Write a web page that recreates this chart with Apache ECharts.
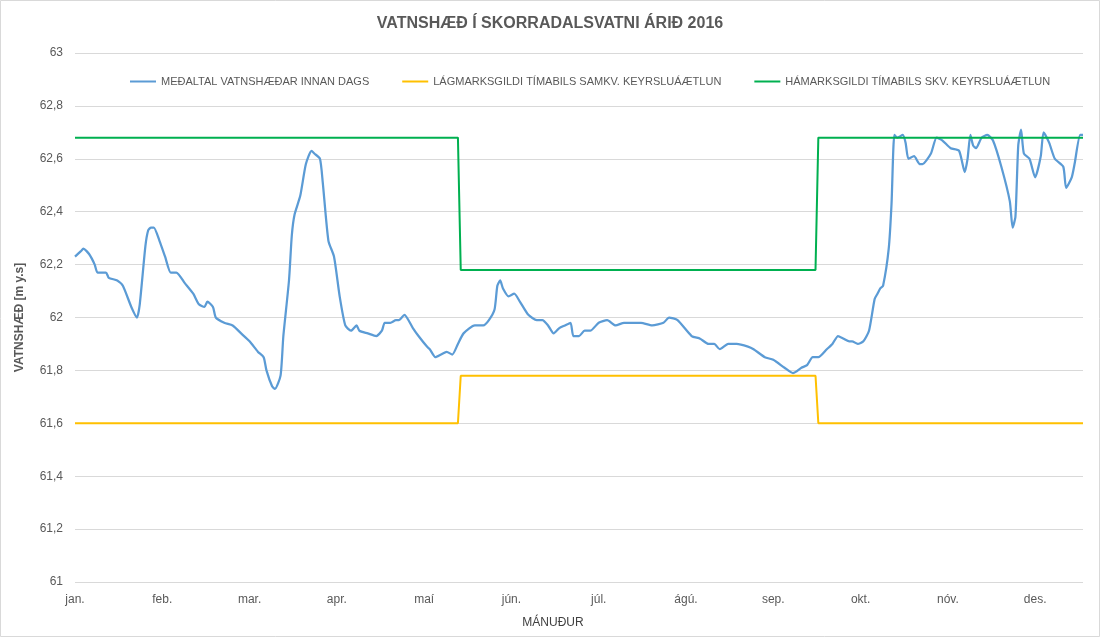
<!DOCTYPE html>
<html>
<head>
<meta charset="utf-8">
<title>Vatnshæð í Skorradalsvatni 2016</title>
<script src="https://cdn.jsdelivr.net/npm/echarts@6/dist/echarts.min.js"></script>
<style>
    body { margin: 0; background: #fff; }
    #main { width: 1100px; height: 637px; }
</style>
</head>
<body>
<div id="main"></div>
<script>
// month labels, one every 31 days on the axis
var months = ["jan.", "feb.", "mar.", "apr.", "maí", "jún.", "júl.", "ágú.", "sep.", "okt.", "nóv.", "des."];

// daily mean water level (day index, m y.s)
var levelDay = [0, 2, 3, 5, 7, 8, 11, 12, 15, 17, 20, 22, 23, 25, 26, 27, 28, 30, 32, 34,
    36, 39, 42, 44, 46, 47, 49, 50, 53, 56, 59, 62, 65, 67, 68, 70, 71, 73, 74, 76,
    77, 78, 80, 82, 84, 85, 87, 88, 90, 92, 94, 96, 98, 100, 101, 104, 107, 109, 110, 112,
    114, 115, 117, 120, 122, 125, 126, 128, 130, 132, 134, 136, 138, 142, 145, 147, 149, 150, 151, 152,
    154, 156, 158, 161, 164, 166, 168, 170, 172, 174, 176, 177, 179, 181, 183, 186, 189, 192, 195, 197,
    201, 205, 209, 211, 214, 219, 222, 225, 227, 229, 232, 235, 239, 241, 245, 248, 252, 255, 258, 260,
    262, 264, 267, 269, 271, 273, 275, 276, 278, 280, 282, 284, 285, 286, 287, 289, 290, 291, 292, 294,
    295, 296, 298, 300, 301, 304, 306, 308, 311, 314, 316, 317, 318, 319, 320, 322, 324, 326, 329, 332,
    333, 334, 335, 336, 337, 339, 341, 343, 344, 346, 348, 351, 352, 354, 355, 357, 358];
var levelValue = [62.23, 62.25, 62.26, 62.24, 62.20, 62.17, 62.17, 62.15, 62.14, 62.12, 62.04, 62.00, 62.05, 62.27, 62.33, 62.34, 62.34, 62.29, 62.23, 62.17,
    62.17, 62.13, 62.09, 62.05, 62.04, 62.06, 62.04, 62.00, 61.98, 61.97, 61.94, 61.91, 61.87, 61.85, 61.80, 61.74, 61.73, 61.78, 61.93, 62.14,
    62.31, 62.39, 62.46, 62.58, 62.63, 62.62, 62.60, 62.51, 62.29, 62.23, 62.08, 61.97, 61.95, 61.97, 61.95, 61.94, 61.93, 61.95, 61.98, 61.98,
    61.99, 61.99, 62.01, 61.96, 61.93, 61.89, 61.88, 61.85, 61.86, 61.87, 61.86, 61.90, 61.94, 61.97, 61.97, 61.99, 62.03, 62.12, 62.14, 62.11,
    62.08, 62.09, 62.06, 62.01, 61.99, 61.99, 61.97, 61.94, 61.96, 61.97, 61.98, 61.93, 61.93, 61.95, 61.95, 61.98, 61.99, 61.97, 61.98, 61.98,
    61.98, 61.97, 61.98, 62.00, 61.99, 61.93, 61.92, 61.90, 61.90, 61.88, 61.90, 61.90, 61.89, 61.88, 61.85, 61.84, 61.81, 61.79, 61.81, 61.82,
    61.85, 61.85, 61.88, 61.90, 61.93, 61.92, 61.91, 61.91, 61.90, 61.91, 61.95, 62.07, 62.09, 62.11, 62.12, 62.26, 62.43, 62.69, 62.68, 62.69,
    62.66, 62.60, 62.61, 62.58, 62.58, 62.62, 62.68, 62.67, 62.64, 62.63, 62.55, 62.60, 62.69, 62.65, 62.64, 62.68, 62.69, 62.67, 62.57, 62.44,
    62.34, 62.38, 62.65, 62.71, 62.62, 62.60, 62.53, 62.61, 62.70, 62.66, 62.60, 62.57, 62.49, 62.53, 62.58, 62.69, 62.69];

// operating plan limits (step changes mid May and mid Sept)
var limitDay = [0, 136, 137, 263, 264, 358];
var minLimit = [61.60, 61.60, 61.78, 61.78, 61.60, 61.60];
var maxLimit = [62.68, 62.68, 62.18, 62.18, 62.68, 62.68];

var seriesNames = [
    "MEÐALTAL VATNSHÆÐAR INNAN DAGS",
    "LÁGMARKSGILDI TÍMABILS SAMKV. KEYRSLUÁÆTLUN",
    "HÁMARKSGILDI TÍMABILS SKV. KEYRSLUÁÆTLUN"
];

function pairs(xs, ys)
{
    var out = [];
    for (var i = 0; i < xs.length; i++) {
        out.push([xs[i], ys[i]]);
    }
    return out;
}

var FONT = "Liberation Sans";
var GREY = "#595959";

var chart = echarts.init(document.getElementById("main"));
var option = {
    backgroundColor: "#fff",
    animation: false,
    textStyle: { fontFamily: FONT },
    title: {
        text: "VATNSHÆÐ Í SKORRADALSVATNI ÁRIÐ 2016",
        left: "center",
        top: 11,
        textStyle: { fontFamily: FONT, fontSize: 16, fontWeight: "bold", color: GREY }
    },
    graphic: [{
        type: "rect",
        shape: { x: 0.5, y: 0.5, width: 1099, height: 636 },
        style: { fill: "none", stroke: "#d9d9d9", lineWidth: 1 },
        silent: true
    }],
    legend: {
        left: 125,
        top: 71,
        icon: "rect",
        itemWidth: 26,
        itemHeight: 2,
        itemGap: 33,
        textStyle: { fontFamily: FONT, fontSize: 11, color: GREY },
        data: seriesNames
    },
    grid: { left: 75, right: 17, top: 53, bottom: 55 },
    xAxis: {
        type: "value",
        min: 0,
        max: 358,
        interval: 31,
        name: "MÁNUÐUR",
        nameLocation: "middle",
        nameGap: 35,
        nameTextStyle: { fontFamily: FONT, fontSize: 12, color: "#404040", padding: [0, 52, 0, 0] },
        axisLine: { show: false },
        axisTick: { show: false },
        splitLine: { show: false },
        axisLabel: {
            color: GREY,
            fontSize: 12,
            margin: 12,
            showMaxLabel: false,
            formatter: function (v) {
                if (v % 31 !== 0) return "";
                return months[v / 31] || "";
            }
        }
    },
    yAxis: {
        type: "value",
        min: 61,
        max: 63,
        interval: 0.2,
        name: "VATNSHÆÐ [m y.s]",
        nameLocation: "middle",
        nameGap: 49,
        nameTextStyle: { fontFamily: FONT, fontSize: 12, fontWeight: "bold", color: GREY },
        axisLine: { show: false },
        axisTick: { show: false },
        splitLine: { lineStyle: { color: "#d9d9d9", width: 1 } },
        axisLabel: {
            color: GREY,
            fontSize: 12,
            margin: 12,
            formatter: function (v) {
                return String(Number(v.toFixed(1))).replace(".", ",");
            }
        }
    },
    series: [
        {
            name: seriesNames[0],
            type: "line",
            showSymbol: false,
            symbol: "none",
            smooth: 0.2,
            lineStyle: { color: "#5b9bd5", width: 2.25 },
            itemStyle: { color: "#5b9bd5" },
            data: pairs(levelDay, levelValue)
        },
        {
            name: seriesNames[1],
            type: "line",
            showSymbol: false,
            symbol: "none",
            lineStyle: { color: "#ffc000", width: 2 },
            itemStyle: { color: "#ffc000" },
            data: pairs(limitDay, minLimit)
        },
        {
            name: seriesNames[2],
            type: "line",
            showSymbol: false,
            symbol: "none",
            lineStyle: { color: "#00b050", width: 2 },
            itemStyle: { color: "#00b050" },
            data: pairs(limitDay, maxLimit)
        }
    ]
};
chart.setOption(option);
</script>
</body>
</html>
